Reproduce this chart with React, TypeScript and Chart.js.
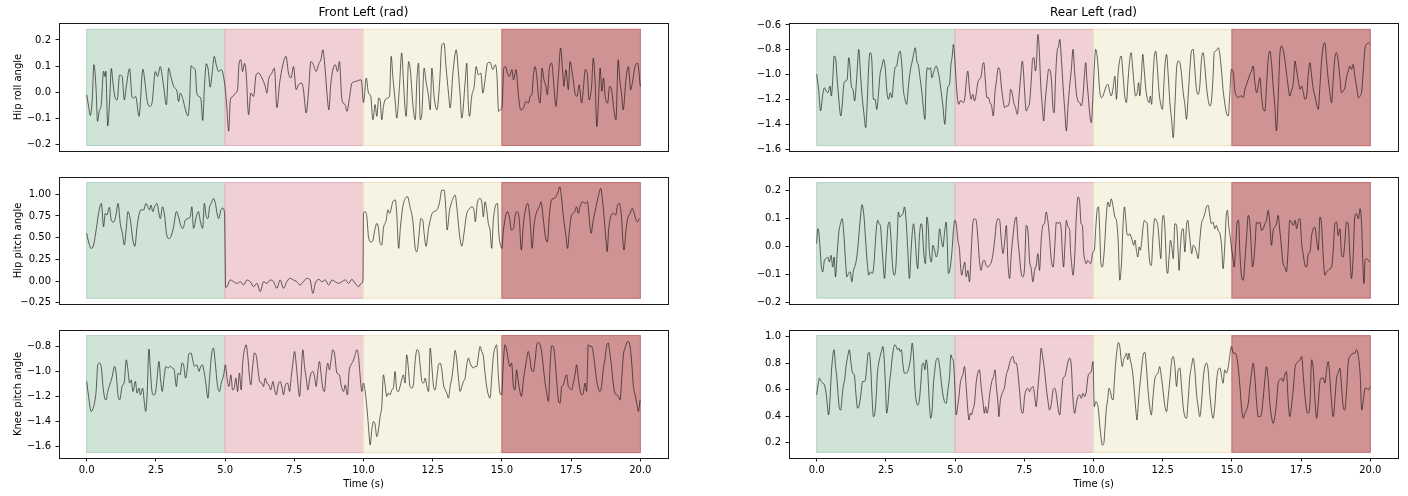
import React, { useEffect, useRef } from "react";
import { Chart, registerables } from "chart.js";

Chart.register(...registerables);

const FONT = "'DejaVu Sans', 'Liberation Sans', sans-serif";
Chart.defaults.font.family = FONT;
Chart.defaults.font.size = 10;
Chart.defaults.color = "#000";

// ---- gait phases (s) ----
const phaseStarts = [0, 5, 10, 15];
const phaseEnds = [5, 10, 15, 20];
const phaseFills = ["#cfe3d7", "#f0cfd5", "#f7f3e3", "#d09394"];
const phaseEdges = ["#b3d2bf", "#e2b3bb", "#efe3c3", "#c26b6d"];

// ---- axes ----
const timeTicks = [0, 2.5, 5, 7.5, 10, 12.5, 15, 17.5, 20];
const timeRange = [-1, 21];
const columnTitles = ["Front Left (rad)", "Rear Left (rad)"];
const rowLabels = ["Hip roll angle", "Hip pitch angle", "Knee pitch angle"];
const xLabel = "Time (s)";

const flRollTicks = [-0.2, -0.1, 0, 0.1, 0.2];
const flRollRange = [-0.226, 0.265];
const flRollShade = [-0.205, 0.241];
const flPitchTicks = [-0.25, 0, 0.25, 0.5, 0.75, 1.0];
const flPitchRange = [-0.265, 1.199];
const flPitchShade = [-0.199, 1.135];
const flKneeTicks = [-1.6, -1.4, -1.2, -1.0, -0.8];
const flKneeRange = [-1.691, -0.669];
const flKneeShade = [-1.648, -0.714];
const rrRollTicks = [-1.6, -1.4, -1.2, -1.0, -0.8, -0.6];
const rrRollRange = [-1.614, -0.584];
const rrRollShade = [-1.571, -0.635];
const rrPitchTicks = [-0.2, -0.1, 0, 0.1, 0.2];
const rrPitchRange = [-0.205, 0.249];
const rrPitchShade = [-0.184, 0.229];
const rrKneeTicks = [0.2, 0.4, 0.6, 0.8, 1.0];
const rrKneeRange = [0.084, 1.051];
const rrKneeShade = [0.127, 1.008];

// ---- series: [time s, angle rad] ----
const flRoll: number[][] = [
  [0,-0.01],[0.07,-0.055],[0.13,-0.09],[0.2,-0.03],[0.26,0.105],[0.34,0.01],[0.39,-0.112],[0.46,-0.07],[0.52,-0.055],[0.61,0.08],[0.66,0.06],[0.69,0.08],[0.76,-0.13],[0.83,-0.03],[0.89,0.09],[0.95,0.035],[1.01,-0.015],[1.1,-0.03],[1.19,0.065],[1.28,0.06],[1.36,-0.03],[1.43,0.02],[1.55,0.09],[1.64,-0.02],[1.7,-0.023],[1.77,-0.017],[1.89,-0.093],[2.03,0.088],[2.11,0.034],[2.18,-0.03],[2.27,-0.055],[2.36,-0.042],[2.48,0.079],[2.56,0.06],[2.66,0.098],[2.73,0.06],[2.78,0.022],[2.88,-0.049],[2.96,0.092],[3.04,0.06],[3.14,0.022],[3.26,0.003],[3.32,-0.036],[3.38,-0.004],[3.48,-0.029],[3.57,-0.068],[3.66,-0.091],[3.72,-0.029],[3.77,0.101],[3.86,0.092],[3.92,0.086],[3.98,-0.004],[4.06,-0.017],[4.13,-0.029],[4.19,-0.109],[4.26,0.034],[4.32,0.109],[4.39,0.086],[4.46,0.019],[4.54,0.079],[4.61,0.137],[4.68,0.105],[4.77,0.079],[4.85,0.086],[4.92,0.073],[5.01,0.009],
  [5.06,-0.055],[5.13,-0.15],[5.19,-0.03],[5.28,-0.017],[5.37,-0.004],[5.45,0.009],[5.5,0.105],[5.57,0.124],[5.63,0.079],[5.7,0.11],[5.76,0.073],[5.85,-0.087],[5.93,-0.004],[6.03,-0.017],[6.12,0.066],[6.21,0.073],[6.33,0.054],[6.45,0.022],[6.51,-0.004],[6.57,0.047],[6.69,0.073],[6.78,0.092],[6.87,-0.06],[6.97,0.034],[7.05,0.086],[7.2,0.137],[7.29,0.073],[7.38,0.054],[7.47,0.098],[7.57,0.009],[7.65,0.028],[7.77,0.034],[7.83,0.009],[7.93,-0.08],[8.01,-0.004],[8.1,0.117],[8.19,0.105],[8.29,0.079],[8.39,0.11],[8.46,0.124],[8.53,0.162],[8.62,0.079],[8.68,-0.004],[8.75,-0.068],[8.82,0.034],[8.98,0.105],[9.06,0.079],[9.13,0.117],[9.22,-0.029],[9.34,-0.049],[9.4,-0.074],[9.5,-0.017],[9.58,0.034],[9.7,0.04],[9.82,0.045],[9.92,0.047],[10.0,-0.04],
  [10.1,0.054],[10.18,-0.004],[10.26,-0.016],[10.34,-0.106],[10.42,-0.048],[10.48,-0.093],[10.55,-0.023],[10.6,-0.03],[10.66,-0.106],[10.72,-0.055],[10.78,-0.03],[10.87,-0.023],[10.94,-0.016],[11.0,0.137],[11.06,0.06],[11.15,-0.042],[11.2,-0.1],[11.3,0.022],[11.38,0.15],[11.44,0.047],[11.5,-0.061],[11.54,-0.093],[11.63,0.117],[11.69,0.086],[11.79,-0.055],[11.87,-0.106],[11.93,0.047],[11.99,0.111],[12.05,-0.106],[12.11,-0.08],[12.19,0.092],[12.26,0.04],[12.35,-0.016],[12.41,-0.068],[12.47,0.092],[12.55,-0.016],[12.65,-0.068],[12.75,0.035],[12.83,0.18],[12.91,0.187],[12.98,0.098],[13.07,-0.004],[13.13,-0.061],[13.23,0.073],[13.35,0.162],[13.43,0.073],[13.49,-0.01],[13.55,-0.1],[13.67,0.035],[13.73,0.111],[13.79,-0.055],[13.83,-0.093],[13.91,-0.016],[14.0,0.022],[14.07,0.098],[14.15,0.066],[14.24,0.073],[14.31,-0.004],[14.4,0.054],[14.48,0.111],[14.58,0.114],[14.67,0.086],[14.76,0.105],[14.82,0.066],[14.88,-0.074],[14.94,-0.068],[15.01,-0.055],
  [15.06,0.086],[15.13,0.098],[15.2,0.073],[15.27,0.06],[15.36,0.086],[15.42,0.047],[15.51,0.086],[15.6,-0.016],[15.68,-0.068],[15.78,-0.061],[15.87,-0.036],[15.96,-0.042],[16.02,-0.016],[16.08,-0.01],[16.14,0.066],[16.2,0.098],[16.26,0.06],[16.32,-0.016],[16.38,-0.042],[16.45,0.092],[16.52,0.047],[16.59,0.022],[16.64,-0.01],[16.71,0.086],[16.8,0.111],[16.88,0.022],[16.95,-0.055],[17.04,0.06],[17.12,0.169],[17.19,0.086],[17.24,0.022],[17.31,0.086],[17.4,0.009],[17.46,0.117],[17.56,0.06],[17.64,-0.004],[17.72,-0.016],[17.79,0.028],[17.88,-0.042],[17.94,0.009],[18.01,0.086],[18.08,0.073],[18.15,-0.03],[18.24,0.022],[18.3,0.13],[18.36,0.054],[18.43,-0.132],[18.49,-0.03],[18.55,0.092],[18.61,0.003],[18.67,0.054],[18.73,-0.016],[18.82,-0.042],[18.89,0.022],[18.97,0.003],[19.03,-0.055],[19.12,-0.106],[19.2,0.124],[19.26,0.047],[19.32,-0.004],[19.38,-0.068],[19.48,0.047],[19.57,0.098],[19.65,0.009],[19.72,0.04],[19.81,0.098],[19.9,0.111],[20.0,0.022],
];

const flPitch: number[][] = [
  [0,0.55],[0.07,0.45],[0.16,0.376],[0.25,0.415],[0.35,0.607],[0.43,0.78],[0.53,0.895],[0.61,0.626],[0.67,0.78],[0.73,0.76],[0.82,0.85],[0.89,0.7],[0.97,0.68],[1.06,0.76],[1.13,0.895],[1.22,0.645],[1.29,0.55],[1.36,0.415],[1.43,0.607],[1.49,0.8],[1.58,0.7],[1.66,0.49],[1.74,0.4],[1.82,0.626],[1.9,0.78],[1.96,0.82],[2.06,0.82],[2.14,0.895],[2.21,0.855],[2.27,0.82],[2.32,0.875],[2.39,0.8],[2.45,0.855],[2.54,0.895],[2.61,0.78],[2.66,0.72],[2.74,0.855],[2.82,0.74],[2.88,0.55],[2.96,0.49],[3.04,0.51],[3.14,0.626],[3.24,0.8],[3.32,0.74],[3.41,0.626],[3.48,0.607],[3.56,0.7],[3.66,0.72],[3.74,0.74],[3.8,0.855],[3.86,0.607],[3.96,0.74],[4.04,0.8],[4.1,0.7],[4.19,0.607],[4.25,0.895],[4.32,0.74],[4.38,0.72],[4.44,0.855],[4.5,0.895],[4.58,0.95],[4.65,0.895],[4.71,0.78],[4.77,0.72],[4.85,0.82],[4.92,0.84],[4.98,0.78],
  [5.02,-0.073],[5.07,-0.065],[5.19,0.012],[5.31,-0.008],[5.43,-0.027],[5.55,-0.008],[5.67,-0.046],[5.79,0.012],[5.91,-0.008],[6.03,-0.065],[6.15,-0.027],[6.27,-0.123],[6.39,-0.008],[6.51,-0.027],[6.63,0.012],[6.75,-0.008],[6.87,-0.084],[6.99,0.012],[7.11,-0.084],[7.23,-0.008],[7.35,0.031],[7.47,0.012],[7.59,-0.008],[7.71,-0.046],[7.83,-0.008],[7.95,0.031],[8.07,0.012],[8.17,-0.142],[8.26,-0.027],[8.38,0.019],[8.5,-0.008],[8.62,0.012],[8.74,-0.046],[8.86,0.012],[8.98,-0.008],[9.1,-0.027],[9.22,-0.008],[9.34,0.012],[9.46,-0.027],[9.58,0.019],[9.7,-0.027],[9.82,-0.065],[9.92,-0.027],[9.98,0.012],
  [10.0,0.78],[10.06,0.8],[10.12,0.74],[10.18,0.51],[10.27,0.45],[10.34,0.47],[10.42,0.607],[10.48,0.664],[10.54,0.607],[10.6,0.434],[10.66,0.415],[10.72,0.607],[10.82,0.7],[10.88,0.82],[10.94,0.78],[10.99,0.82],[11.06,0.914],[11.15,0.933],[11.2,0.78],[11.27,0.376],[11.33,0.607],[11.42,0.856],[11.51,0.952],[11.59,0.972],[11.68,0.856],[11.78,0.7],[11.87,0.376],[11.93,0.338],[12.0,0.51],[12.07,0.72],[12.14,0.7],[12.19,0.55],[12.26,0.4],[12.35,0.607],[12.41,0.7],[12.48,0.78],[12.55,0.8],[12.65,0.82],[12.74,0.895],[12.83,1.048],[12.91,1.048],[12.97,0.856],[13.02,0.588],[13.11,0.82],[13.19,0.914],[13.31,0.99],[13.37,0.856],[13.47,0.53],[13.55,0.4],[13.63,0.55],[13.73,0.78],[13.8,0.82],[13.91,0.856],[13.99,0.82],[14.04,0.683],[14.11,0.895],[14.21,0.952],[14.28,0.895],[14.33,0.74],[14.39,0.914],[14.45,0.82],[14.51,0.664],[14.57,0.588],[14.63,0.376],[14.69,0.7],[14.76,0.856],[14.84,0.895],[14.88,0.588],[14.96,0.4],[15.0,0.376],
  [15.05,0.568],[15.13,0.74],[15.2,0.8],[15.27,0.74],[15.34,0.588],[15.42,0.607],[15.48,0.76],[15.54,0.8],[15.63,0.7],[15.7,0.357],[15.78,0.664],[15.86,0.837],[15.93,0.895],[16.02,0.7],[16.09,0.376],[16.16,0.645],[16.26,0.8],[16.35,0.856],[16.41,0.914],[16.5,0.7],[16.57,0.51],[16.64,0.45],[16.72,0.78],[16.79,0.933],[16.88,0.952],[16.95,0.972],[17.03,1.03],[17.09,1.087],[17.15,0.972],[17.22,0.74],[17.31,0.53],[17.37,0.376],[17.44,0.588],[17.5,0.74],[17.56,0.78],[17.63,0.8],[17.7,0.856],[17.76,0.78],[17.82,0.856],[17.92,0.914],[18.0,0.895],[18.09,0.914],[18.15,0.74],[18.22,0.55],[18.3,0.7],[18.4,0.856],[18.48,0.972],[18.57,1.068],[18.64,0.914],[18.7,0.7],[18.76,0.47],[18.8,0.338],[18.86,0.607],[18.93,0.74],[19.03,0.78],[19.11,0.76],[19.18,0.876],[19.24,0.895],[19.32,0.74],[19.36,0.51],[19.41,0.357],[19.49,0.607],[19.56,0.74],[19.63,0.78],[19.7,0.837],[19.78,0.78],[19.85,0.7],[19.9,0.683],[19.97,0.72],
];

const flKnee: number[][] = [
  [0,-1.08],[0.07,-1.2],[0.16,-1.32],[0.25,-1.28],[0.34,-1.16],[0.4,-0.947],[0.47,-0.933],[0.53,-0.973],[0.59,-1.12],[0.65,-1.213],[0.7,-1.227],[0.76,-1.16],[0.83,-1.107],[0.91,-1.053],[1.01,-0.96],[1.07,-1.027],[1.13,-1.187],[1.19,-1.227],[1.28,-1.12],[1.36,-1.08],[1.43,-0.907],[1.49,-0.987],[1.55,-1.093],[1.61,-1.067],[1.67,-1.16],[1.76,-1.08],[1.82,-1.173],[1.89,-1.133],[1.94,-1.187],[2.02,-1.133],[2.08,-1.24],[2.13,-1.32],[2.18,-1.2],[2.25,-0.821],[2.3,-0.987],[2.36,-1.16],[2.42,-1.187],[2.48,-1.173],[2.54,-1.067],[2.61,-0.92],[2.67,-1.067],[2.73,-1.16],[2.8,-1.04],[2.86,-0.96],[2.94,-0.973],[3.02,-0.96],[3.1,-0.973],[3.16,-0.987],[3.24,-1.12],[3.3,-1.013],[3.38,-1.027],[3.44,-0.933],[3.5,-0.947],[3.57,-1.053],[3.63,-0.987],[3.69,-0.861],[3.77,-0.853],[3.84,-0.92],[3.9,-0.96],[3.98,-0.947],[4.06,-1.0],[4.1,-0.973],[4.18,-0.947],[4.24,-1.0],[4.31,-1.107],[4.38,-1.213],[4.44,-1.053],[4.51,-0.867],[4.58,-0.813],[4.64,-0.92],[4.73,-1.12],[4.8,-1.16],[4.86,-1.093],[4.95,-1.027],[5.01,-0.947],
  [5.07,-1.053],[5.14,-1.12],[5.21,-1.027],[5.27,-1.147],[5.33,-1.133],[5.39,-1.053],[5.45,-1.16],[5.52,-1.013],[5.58,-1.147],[5.64,-0.92],[5.7,-0.827],[5.76,-0.787],[5.82,-0.88],[5.88,-1.04],[5.93,-1.107],[5.99,-0.973],[6.06,-0.853],[6.13,-0.88],[6.19,-0.987],[6.25,-1.08],[6.33,-1.093],[6.39,-1.12],[6.45,-1.053],[6.51,-1.093],[6.58,-1.107],[6.65,-1.147],[6.73,-1.08],[6.79,-1.147],[6.85,-1.187],[6.92,-1.107],[6.99,-1.08],[7.06,-1.133],[7.11,-1.187],[7.18,-1.107],[7.26,-1.093],[7.33,-1.16],[7.39,-1.04],[7.45,-0.933],[7.51,-0.84],[7.57,-0.947],[7.63,-1.093],[7.69,-1.2],[7.75,-1.013],[7.81,-0.827],[7.87,-0.96],[7.93,-1.053],[7.99,-1.147],[8.05,-1.067],[8.11,-1.013],[8.17,-1.0],[8.23,-1.04],[8.29,-1.12],[8.35,-1.0],[8.41,-0.92],[8.47,-1.027],[8.53,-1.133],[8.59,-1.16],[8.65,-1.013],[8.71,-0.933],[8.77,-0.987],[8.83,-0.907],[8.89,-0.827],[8.95,-0.853],[9.04,-1.013],[9.13,-1.027],[9.19,-1.107],[9.28,-1.16],[9.34,-1.107],[9.42,-1.187],[9.48,-1.0],[9.55,-0.947],[9.62,-0.92],[9.68,-0.88],[9.76,-0.827],
  [9.82,-0.88],[9.88,-1.04],[9.94,-1.16],[10.0,-1.093],[10.06,-1.16],[10.12,-1.28],[10.18,-1.44],[10.24,-1.587],[10.3,-1.467],[10.36,-1.4],[10.42,-1.427],[10.48,-1.52],[10.54,-1.467],[10.6,-1.36],[10.66,-1.28],[10.72,-1.027],[10.78,-1.107],[10.84,-1.2],[10.9,-1.173],[10.96,-1.187],[11.02,-1.147],[11.08,-1.133],[11.14,-1.0],[11.2,-1.147],[11.26,-1.16],[11.32,-1.12],[11.38,-1.067],[11.44,-1.027],[11.5,-1.093],[11.56,-0.867],[11.62,-0.973],[11.68,-1.12],[11.74,-1.133],[11.8,-1.107],[11.86,-0.933],[11.93,-0.827],[11.99,-0.84],[12.05,-0.96],[12.11,-1.08],[12.17,-1.093],[12.23,-1.053],[12.29,-1.12],[12.35,-1.16],[12.41,-0.813],[12.47,-0.96],[12.53,-1.12],[12.59,-1.147],[12.65,-1.053],[12.71,-0.947],[12.77,-0.933],[12.83,-0.987],[12.89,-1.107],[12.95,-1.147],[13.01,-1.173],[13.07,-1.213],[13.13,-1.12],[13.19,-1.053],[13.25,-0.947],[13.31,-0.832],[13.37,-0.907],[13.43,-1.053],[13.49,-1.16],[13.55,-1.12],[13.61,-1.08],[13.67,-1.053],[13.73,-0.947],[13.79,-0.893],[13.85,-0.933],[13.91,-0.96],[13.97,-0.973],[14.03,-0.96],[14.09,-0.96],[14.15,-0.88],[14.21,-0.8],[14.27,-0.84],[14.33,-0.88],[14.39,-1.013],[14.45,-1.12],[14.51,-1.187],[14.57,-1.213],[14.63,-1.053],[14.69,-0.88],[14.75,-0.813],[14.81,-0.787],[14.87,-1.027],[14.93,-1.173],[14.99,-1.187],
  [15.05,-0.933],[15.11,-0.787],[15.17,-0.827],[15.23,-0.907],[15.29,-0.96],[15.35,-0.933],[15.41,-1.107],[15.47,-1.147],[15.53,-0.987],[15.59,-1.08],[15.65,-1.16],[15.71,-1.2],[15.77,-1.08],[15.83,-0.987],[15.89,-0.907],[15.95,-0.84],[16.01,-0.893],[16.07,-0.987],[16.14,-1.0],[16.2,-0.907],[16.26,-0.787],[16.32,-0.768],[16.38,-0.787],[16.44,-0.853],[16.5,-0.973],[16.56,-1.093],[16.62,-1.173],[16.68,-1.24],[16.74,-0.96],[16.8,-0.795],[16.86,-0.8],[16.92,-0.907],[16.98,-1.08],[17.04,-1.227],[17.1,-1.253],[17.16,-1.12],[17.22,-1.107],[17.28,-1.053],[17.34,-1.027],[17.4,-1.12],[17.46,-1.133],[17.52,-1.147],[17.58,-1.093],[17.64,-1.027],[17.7,-0.947],[17.76,-1.053],[17.82,-1.147],[17.88,-1.187],[17.94,-1.173],[18.0,-1.093],[18.06,-1.16],[18.12,-0.787],[18.18,-0.8],[18.24,-0.8],[18.3,-0.853],[18.36,-0.96],[18.42,-1.067],[18.48,-1.133],[18.54,-1.16],[18.6,-1.12],[18.66,-0.987],[18.72,-0.907],[18.78,-0.8],[18.84,-0.773],[18.9,-0.853],[18.96,-0.96],[19.02,-1.093],[19.08,-1.173],[19.15,-1.187],[19.21,-1.2],[19.27,-1.227],[19.33,-1.053],[19.39,-0.867],[19.45,-0.813],[19.51,-0.773],[19.57,-0.76],[19.63,-0.8],[19.69,-0.933],[19.75,-1.12],[19.81,-1.187],[19.87,-1.253],[19.93,-1.32],[19.99,-1.227],
];

const rrRoll: number[][] = [
  [0,-0.997],[0.07,-1.118],[0.14,-1.292],[0.22,-1.158],[0.28,-1.105],[0.34,-1.131],[0.41,-1.145],[0.48,-1.091],[0.53,-1.172],[0.58,-1.038],[0.63,-0.85],[0.68,-0.863],[0.74,-1.038],[0.8,-1.198],[0.87,-1.332],[0.92,-1.252],[0.98,-1.078],[1.04,-1.051],[1.1,-1.038],[1.16,-0.863],[1.21,-0.957],[1.25,-1.091],[1.31,-1.118],[1.37,-1.212],[1.45,-1.011],[1.52,-0.796],[1.58,-0.984],[1.64,-1.172],[1.71,-1.319],[1.77,-1.426],[1.83,-1.198],[1.88,-0.93],[1.93,-0.823],[1.99,-0.877],[2.05,-1.198],[2.11,-1.198],[2.17,-1.279],[2.24,-1.131],[2.29,-0.997],[2.36,-0.93],[2.42,-0.877],[2.48,-0.957],[2.54,-1.145],[2.6,-1.198],[2.66,-1.145],[2.72,-1.185],[2.78,-1.038],[2.83,-0.944],[2.89,-0.93],[2.95,-0.85],[3.01,-0.81],[3.07,-0.903],[3.13,-1.118],[3.19,-1.198],[3.25,-1.239],[3.32,-1.078],[3.38,-0.971],[3.44,-0.903],[3.5,-0.836],[3.56,-0.783],[3.62,-0.89],[3.68,-0.93],[3.74,-1.038],[3.8,-1.145],[3.86,-1.279],[3.91,-1.359],[3.95,-1.064],[4.0,-0.944],[4.05,-0.957],[4.11,-0.944],[4.16,-1.024],[4.22,-0.984],[4.32,-0.93],[4.38,-0.971],[4.44,-1.038],[4.5,-1.145],[4.56,-1.252],[4.63,-1.399],[4.69,-1.198],[4.75,-1.091],[4.8,-1.078],[4.85,-0.917],[4.89,-0.863],[4.94,-0.756],[4.99,-0.877],
  [5.04,-1.064],[5.09,-1.198],[5.14,-1.239],[5.18,-1.212],[5.24,-1.212],[5.3,-1.225],[5.36,-1.172],[5.41,-1.038],[5.46,-0.971],[5.52,-1.118],[5.58,-1.198],[5.64,-1.158],[5.7,-1.212],[5.76,-1.158],[5.82,-1.064],[5.88,-1.038],[5.94,-1.011],[6.0,-0.917],[6.04,-0.903],[6.09,-1.038],[6.15,-1.185],[6.21,-1.185],[6.26,-1.225],[6.32,-1.252],[6.38,-1.332],[6.44,-1.145],[6.5,-1.038],[6.56,-0.944],[6.61,-0.957],[6.67,-1.091],[6.73,-1.198],[6.79,-1.265],[6.85,-1.252],[6.91,-1.252],[6.97,-1.198],[7.0,-1.118],[7.06,-1.145],[7.12,-1.225],[7.18,-1.265],[7.25,-1.319],[7.31,-1.172],[7.37,-1.011],[7.43,-0.89],[7.47,-0.971],[7.52,-1.172],[7.57,-1.292],[7.63,-1.265],[7.69,-1.225],[7.75,-1.051],[7.8,-0.877],[7.85,-0.863],[7.9,-0.971],[7.94,-0.903],[7.99,-0.676],[8.04,-0.796],[8.09,-1.064],[8.15,-1.252],[8.2,-1.373],[8.26,-1.198],[8.32,-1.064],[8.38,-0.957],[8.44,-0.971],[8.49,-1.078],[8.54,-1.279],[8.58,-1.306],[8.63,-1.024],[8.68,-0.823],[8.74,-0.77],
  [8.78,-0.716],[8.84,-0.877],[8.9,-1.091],[8.96,-1.279],[9.02,-1.453],[9.08,-1.252],[9.14,-1.091],[9.2,-0.957],[9.26,-0.796],[9.32,-0.984],[9.38,-1.145],[9.44,-1.212],[9.5,-1.225],[9.56,-1.252],[9.62,-1.172],[9.68,-0.984],[9.72,-0.903],[9.76,-1.038],[9.81,-1.172],[9.86,-1.306],[9.92,-1.386],[9.98,-1.172],
  [10.03,-0.93],[10.08,-0.796],[10.13,-0.85],[10.18,-0.984],[10.22,-1.118],[10.28,-1.185],[10.34,-1.172],[10.4,-1.131],[10.46,-1.091],[10.52,-1.078],[10.58,-1.131],[10.64,-1.172],[10.71,-1.105],[10.77,-1.011],[10.83,-1.198],[10.89,-0.984],[10.95,-0.877],[11.0,-0.85],[11.07,-1.011],[11.13,-1.172],[11.19,-1.225],[11.25,-1.038],[11.31,-0.877],[11.36,-0.823],[11.41,-0.93],[11.47,-1.091],[11.52,-1.172],[11.58,-1.145],[11.63,-1.064],[11.67,-1.172],[11.73,-1.011],[11.78,-0.836],[11.83,-0.957],[11.89,-1.118],[11.95,-1.198],[12.01,-1.225],[12.05,-1.172],[12.1,-1.239],[12.15,-1.011],[12.2,-0.85],[12.25,-0.81],[12.31,-0.957],[12.37,-1.145],[12.43,-1.239],[12.49,-1.279],[12.54,-1.091],[12.58,-0.93],[12.64,-0.836],[12.7,-1.011],[12.76,-1.225],[12.82,-1.359],[12.88,-1.507],[12.94,-1.252],[13.0,-0.957],[13.06,-0.89],[13.12,-0.903],[13.18,-0.997],[13.24,-1.145],[13.3,-1.239],[13.36,-1.359],[13.42,-1.172],[13.48,-0.957],[13.54,-0.81],[13.6,-0.796],[13.66,-0.957],[13.72,-1.118],[13.78,-1.158],[13.84,-1.091],[13.9,-0.877],[13.96,-0.823],[14.02,-0.93],[14.08,-1.091],[14.14,-1.198],[14.2,-1.252],[14.26,-1.212],[14.32,-1.011],[14.36,-0.823],[14.42,-0.81],[14.47,-0.796],[14.51,-0.783],[14.57,-0.85],[14.63,-0.984],[14.68,-1.118],[14.74,-1.225],[14.8,-1.306],[14.87,-1.332],[14.92,-1.172],[14.98,-0.957],
  [15.05,-0.984],[15.11,-1.131],[15.17,-1.172],[15.23,-1.185],[15.29,-1.172],[15.35,-1.172],[15.41,-1.185],[15.47,-1.118],[15.53,-1.078],[15.59,-1.038],[15.65,-0.997],[15.71,-0.971],[15.77,-0.93],[15.83,-1.064],[15.89,-1.145],[15.95,-1.091],[16.01,-1.024],[16.07,-1.172],[16.13,-1.279],[16.19,-1.292],[16.25,-1.091],[16.31,-0.877],[16.37,-0.81],[16.43,-0.903],[16.49,-1.091],[16.55,-1.252],[16.61,-1.453],[16.67,-1.198],[16.73,-0.85],[16.79,-0.769],[16.85,-0.796],[16.91,-0.877],[16.97,-0.984],[17.03,-1.091],[17.09,-1.172],[17.15,-1.131],[17.22,-1.064],[17.28,-0.89],[17.34,-0.971],[17.4,-1.051],[17.46,-1.118],[17.52,-1.091],[17.58,-1.145],[17.64,-1.198],[17.7,-1.172],[17.76,-0.997],[17.82,-0.903],[17.88,-1.011],[17.94,-1.118],[18.0,-1.172],[18.06,-1.239],[18.12,-1.279],[18.18,-1.091],[18.24,-0.89],[18.3,-0.769],[18.36,-0.743],[18.42,-0.89],[18.48,-1.038],[18.54,-1.145],[18.6,-1.225],[18.66,-1.038],[18.72,-0.863],[18.78,-0.823],[18.84,-0.89],[18.9,-1.024],[18.96,-1.145],[19.02,-1.131],[19.08,-1.105],[19.14,-1.024],[19.2,-0.971],[19.26,-0.93],[19.32,-0.957],[19.38,-0.917],[19.44,-1.011],[19.5,-1.091],[19.57,-1.185],[19.63,-1.172],[19.69,-1.131],[19.75,-0.957],[19.81,-0.783],[19.87,-0.756],[19.93,-0.743],[19.99,-0.756],
];

const rrPitch: number[][] = [
  [0,0.011],[0.04,0.064],[0.07,0.058],[0.12,-0.001],[0.17,-0.073],[0.22,-0.09],[0.28,-0.049],[0.34,-0.043],[0.4,-0.037],[0.46,-0.055],[0.52,-0.031],[0.58,-0.073],[0.63,-0.037],[0.68,-0.108],[0.74,-0.025],[0.8,0.052],[0.86,0.082],[0.92,0.1],[0.98,0.046],[1.04,-0.049],[1.09,-0.108],[1.15,-0.096],[1.21,-0.09],[1.27,-0.126],[1.33,-0.085],[1.39,-0.067],[1.45,-0.037],[1.51,0.023],[1.57,0.094],[1.64,0.15],[1.71,0.106],[1.76,0.035],[1.82,-0.049],[1.88,-0.102],[1.94,-0.09],[2.0,-0.096],[2.06,-0.073],[2.11,-0.001],[2.16,0.07],[2.21,0.094],[2.25,0.082],[2.3,0.076],[2.35,0.011],[2.4,-0.061],[2.45,-0.114],[2.51,-0.025],[2.57,0.07],[2.63,0.088],[2.68,0.035],[2.74,-0.067],[2.8,-0.102],[2.86,-0.073],[2.91,0.035],[2.95,0.124],[3.0,0.106],[3.06,0.112],[3.12,0.118],[3.17,0.142],[3.23,0.094],[3.29,-0.013],[3.35,-0.114],[3.41,-0.013],[3.46,0.058],[3.5,0.082],[3.56,0.023],[3.6,-0.037],[3.65,-0.079],[3.71,0.035],[3.77,0.082],[3.81,0.07],[3.87,-0.025],[3.93,-0.061],[3.98,0.106],[4.03,0.07],[4.07,-0.013],[4.14,-0.055],[4.2,0.005],[4.26,-0.013],[4.32,-0.037],[4.38,-0.013],[4.44,0.064],[4.5,0.029],[4.56,-0.001],[4.62,0.052],[4.68,0.088],[4.71,0.035],[4.76,-0.096],[4.82,-0.079],[4.89,-0.013],[4.94,0.058],[4.99,0.094],
  [5.04,0.082],[5.1,0.023],[5.16,-0.013],[5.2,-0.073],[5.24,-0.102],[5.3,-0.073],[5.35,-0.055],[5.4,-0.108],[5.46,-0.085],[5.52,-0.126],[5.58,-0.025],[5.64,0.082],[5.7,0.1],[5.76,0.094],[5.82,0.035],[5.88,-0.049],[5.94,-0.085],[6.0,-0.055],[6.06,-0.049],[6.12,-0.067],[6.18,-0.073],[6.24,-0.067],[6.31,-0.055],[6.37,-0.025],[6.43,0.023],[6.49,0.082],[6.55,0.1],[6.61,0.094],[6.67,0.023],[6.73,-0.025],[6.79,0.017],[6.85,0.076],[6.91,-0.061],[6.97,-0.114],[7.03,-0.025],[7.09,0.035],[7.15,0.088],[7.21,0.106],[7.27,0.023],[7.33,-0.037],[7.39,-0.096],[7.45,-0.108],[7.51,-0.073],[7.57,0.076],[7.63,0.058],[7.69,-0.049],[7.75,-0.079],[7.81,-0.126],[7.87,-0.085],[7.93,-0.067],[7.99,-0.025],[8.05,-0.085],[8.11,0.023],[8.17,0.076],[8.23,0.082],[8.29,0.124],[8.35,0.094],[8.41,0.035],[8.47,-0.043],[8.54,-0.073],[8.6,-0.001],[8.66,0.088],[8.72,0.082],
  [8.78,0.088],[8.84,0.052],[8.87,-0.013],[8.92,-0.073],[8.97,0.011],[9.02,0.094],[9.08,0.07],[9.14,0.058],[9.17,-0.013],[9.21,-0.061],[9.26,-0.102],[9.32,-0.037],[9.38,0.106],[9.44,0.177],[9.5,0.16],[9.55,0.082],[9.6,0.076],[9.64,-0.013],[9.69,-0.049],[9.74,-0.061],[9.79,-0.049],[9.84,-0.055],[9.89,-0.061],[9.93,-0.049],[9.98,-0.019],
  [10.03,-0.013],[10.08,0.064],[10.13,0.13],[10.18,0.142],[10.22,0.07],[10.27,-0.061],[10.32,-0.073],[10.37,-0.037],[10.42,0.035],[10.46,0.106],[10.52,0.16],[10.58,0.142],[10.64,0.171],[10.71,0.142],[10.77,0.106],[10.83,0.094],[10.89,0.023],[10.95,-0.12],[11.01,-0.061],[11.07,0.082],[11.12,0.142],[11.16,0.106],[11.21,0.046],[11.26,0.04],[11.31,0.046],[11.36,0.035],[11.41,0.017],[11.45,0.005],[11.5,0.023],[11.55,-0.013],[11.6,-0.037],[11.65,-0.001],[11.69,-0.013],[11.74,0.017],[11.79,0.07],[11.84,0.094],[11.89,0.088],[11.94,0.082],[11.98,0.011],[12.03,-0.055],[12.09,-0.067],[12.15,0.035],[12.21,0.1],[12.27,0.094],[12.33,0.07],[12.39,-0.001],[12.43,-0.043],[12.48,0.082],[12.53,0.112],[12.58,0.064],[12.64,-0.073],[12.68,-0.096],[12.73,-0.037],[12.78,0.023],[12.83,-0.001],[12.88,-0.043],[12.94,0.082],[13.0,0.076],[13.06,-0.025],[13.09,-0.085],[13.14,-0.001],[13.19,0.058],[13.24,0.064],[13.3,-0.019],[13.36,0.076],[13.41,0.094],[13.45,0.058],[13.5,0.011],[13.55,-0.025],[13.6,0.005],[13.66,-0.001],[13.72,-0.019],[13.78,-0.043],[13.84,0.023],[13.9,0.082],[13.96,0.1],[14.02,0.118],[14.08,0.142],[14.14,0.148],[14.2,0.112],[14.26,0.082],[14.32,0.088],[14.38,0.064],[14.44,0.076],[14.5,0.058],[14.57,0.046],[14.63,-0.001],[14.68,-0.079],[14.74,-0.001],[14.8,0.118],[14.84,0.13],[14.89,0.07],[14.94,0.035],[14.98,-0.001],
  [15.05,-0.049],[15.08,-0.073],[15.14,0.011],[15.19,0.088],[15.24,0.094],[15.29,-0.025],[15.35,-0.108],[15.41,-0.12],[15.47,-0.049],[15.53,0.035],[15.59,0.112],[15.65,0.082],[15.71,-0.025],[15.74,-0.073],[15.79,-0.049],[15.83,-0.001],[15.89,0.088],[15.95,0.082],[16.01,0.088],[16.07,0.058],[16.13,0.064],[16.19,0.082],[16.25,0.094],[16.31,0.13],[16.37,0.082],[16.43,0.005],[16.49,0.058],[16.55,0.07],[16.61,0.082],[16.67,0.112],[16.73,0.058],[16.79,-0.001],[16.85,-0.061],[16.91,-0.073],[16.97,-0.09],[17.03,-0.013],[17.09,0.094],[17.15,0.088],[17.22,0.076],[17.28,0.094],[17.34,0.064],[17.4,0.094],[17.46,0.1],[17.52,0.011],[17.58,-0.031],[17.64,-0.067],[17.7,-0.073],[17.76,-0.025],[17.82,-0.019],[17.88,0.04],[17.94,0.064],[18.0,0.07],[18.06,0.023],[18.12,-0.013],[18.18,0.106],[18.24,0.076],[18.3,-0.037],[18.36,-0.102],[18.42,-0.09],[18.48,-0.085],[18.54,-0.079],[18.6,-0.073],[18.66,-0.013],[18.72,0.082],[18.78,0.088],[18.84,0.04],[18.9,0.064],[18.96,-0.025],[19.02,-0.037],[19.08,0.017],[19.14,0.088],[19.2,0.082],[19.26,-0.025],[19.32,-0.114],[19.38,-0.037],[19.44,0.106],[19.5,0.118],[19.57,0.1],[19.63,0.136],[19.69,0.07],[19.72,-0.025],[19.77,-0.132],[19.81,-0.049],[19.87,-0.043],[19.93,-0.049],[19.99,-0.055],
];

const rrKnee: number[][] = [
  [0,0.561],[0.05,0.636],[0.1,0.687],[0.16,0.662],[0.22,0.649],[0.28,0.636],[0.34,0.573],[0.39,0.472],[0.43,0.409],[0.48,0.523],[0.53,0.725],[0.58,0.851],[0.63,0.902],[0.68,0.775],[0.72,0.712],[0.77,0.573],[0.82,0.46],[0.87,0.447],[0.92,0.548],[0.96,0.624],[1.01,0.674],[1.06,0.775],[1.12,0.851],[1.18,0.902],[1.24,0.801],[1.3,0.725],[1.36,0.712],[1.42,0.561],[1.48,0.46],[1.54,0.485],[1.6,0.573],[1.66,0.662],[1.71,0.662],[1.76,0.674],[1.81,0.775],[1.86,0.876],[1.9,0.881],[1.95,0.775],[2.0,0.548],[2.05,0.396],[2.1,0.422],[2.15,0.548],[2.19,0.712],[2.24,0.801],[2.29,0.851],[2.34,0.889],[2.39,0.927],[2.44,0.826],[2.48,0.649],[2.53,0.422],[2.58,0.497],[2.63,0.649],[2.68,0.737],[2.72,0.826],[2.77,0.902],[2.82,0.939],[2.87,0.927],[2.92,0.902],[2.97,0.914],[3.01,0.889],[3.06,0.902],[3.11,0.801],[3.17,0.725],[3.23,0.725],[3.29,0.737],[3.35,0.788],[3.4,0.851],[3.45,0.952],[3.5,0.851],[3.54,0.649],[3.59,0.523],[3.65,0.485],[3.71,0.523],[3.77,0.674],[3.81,0.788],[3.86,0.801],[3.91,0.75],[3.95,0.826],[4.0,0.775],[4.04,0.624],[4.07,0.497],[4.12,0.384],[4.17,0.447],[4.22,0.649],[4.27,0.75],[4.32,0.826],[4.38,0.838],[4.44,0.775],[4.5,0.662],[4.56,0.561],[4.62,0.51],[4.68,0.497],[4.74,0.598],[4.8,0.699],[4.85,0.864],[4.89,0.838],[4.94,0.813],
  [4.99,0.624],[5.04,0.409],[5.09,0.472],[5.14,0.548],[5.18,0.636],[5.23,0.687],[5.28,0.712],[5.34,0.775],[5.4,0.624],[5.46,0.447],[5.5,0.371],[5.55,0.422],[5.59,0.409],[5.64,0.447],[5.7,0.497],[5.76,0.649],[5.82,0.725],[5.88,0.75],[5.94,0.624],[6.0,0.523],[6.06,0.422],[6.1,0.472],[6.15,0.422],[6.2,0.46],[6.24,0.548],[6.29,0.624],[6.34,0.674],[6.39,0.699],[6.44,0.75],[6.49,0.624],[6.55,0.497],[6.58,0.396],[6.63,0.51],[6.68,0.561],[6.73,0.586],[6.79,0.624],[6.85,0.712],[6.91,0.75],[6.97,0.801],[7.03,0.838],[7.09,0.851],[7.15,0.801],[7.21,0.801],[7.27,0.725],[7.33,0.586],[7.39,0.447],[7.45,0.422],[7.51,0.548],[7.57,0.598],[7.63,0.611],[7.69,0.586],[7.75,0.611],[7.81,0.624],[7.87,0.561],[7.93,0.472],[7.99,0.611],[8.05,0.75],[8.11,0.914],[8.17,0.838],[8.23,0.75],[8.29,0.624],[8.35,0.523],[8.41,0.447],[8.47,0.485],[8.54,0.598],[8.6,0.611],
  [8.78,0.409],[8.84,0.548],[8.9,0.687],[8.96,0.699],[9.02,0.75],[9.08,0.813],[9.14,0.838],[9.2,0.775],[9.26,0.523],[9.32,0.422],[9.38,0.497],[9.44,0.548],[9.5,0.561],[9.56,0.535],[9.62,0.573],[9.68,0.548],[9.74,0.586],[9.8,0.699],[9.86,0.725],[9.92,0.737],[9.98,0.813],
  [10.03,0.472],[10.08,0.51],[10.13,0.497],[10.18,0.447],[10.22,0.346],[10.27,0.245],[10.32,0.182],[10.37,0.194],[10.42,0.321],[10.46,0.447],[10.51,0.523],[10.56,0.611],[10.61,0.586],[10.66,0.535],[10.71,0.523],[10.75,0.649],[10.8,0.801],[10.85,0.902],[10.9,0.957],[10.95,0.927],[11.0,0.826],[11.04,0.775],[11.09,0.826],[11.14,0.851],[11.19,0.876],[11.24,0.826],[11.28,0.876],[11.33,0.826],[11.38,0.775],[11.43,0.699],[11.48,0.573],[11.53,0.447],[11.57,0.371],[11.62,0.497],[11.67,0.624],[11.72,0.725],[11.77,0.826],[11.81,0.876],[11.86,0.881],[11.91,0.775],[11.97,0.598],[12.03,0.472],[12.09,0.409],[12.15,0.548],[12.21,0.674],[12.27,0.712],[12.33,0.725],[12.39,0.775],[12.45,0.699],[12.51,0.598],[12.57,0.485],[12.64,0.434],[12.7,0.548],[12.76,0.674],[12.82,0.813],[12.88,0.851],[12.94,0.775],[13.0,0.624],[13.06,0.75],[13.12,0.763],[13.18,0.624],[13.24,0.472],[13.3,0.396],[13.36,0.384],[13.42,0.523],[13.48,0.699],[13.54,0.775],[13.6,0.838],[13.66,0.75],[13.72,0.573],[13.78,0.472],[13.84,0.396],[13.9,0.497],[13.96,0.674],[14.02,0.775],[14.08,0.801],[14.14,0.75],[14.2,0.573],[14.26,0.447],[14.32,0.384],[14.38,0.472],[14.44,0.649],[14.5,0.75],[14.57,0.763],[14.63,0.699],[14.68,0.649],[14.74,0.75],[14.8,0.725],[14.87,0.775],[14.92,0.851],[14.98,0.927],
  [15.05,0.876],[15.11,0.876],[15.17,0.851],[15.23,0.763],[15.29,0.624],[15.35,0.46],[15.41,0.384],[15.47,0.422],[15.53,0.447],[15.59,0.497],[15.65,0.624],[15.71,0.725],[15.77,0.801],[15.83,0.687],[15.89,0.51],[15.95,0.396],[16.01,0.396],[16.07,0.422],[16.13,0.535],[16.19,0.674],[16.25,0.775],[16.31,0.674],[16.37,0.497],[16.43,0.396],[16.49,0.346],[16.55,0.396],[16.61,0.497],[16.67,0.649],[16.73,0.674],[16.79,0.687],[16.85,0.662],[16.91,0.712],[16.97,0.737],[17.03,0.523],[17.09,0.396],[17.15,0.472],[17.22,0.611],[17.28,0.763],[17.34,0.801],[17.4,0.813],[17.46,0.826],[17.52,0.851],[17.58,0.699],[17.64,0.548],[17.7,0.447],[17.76,0.422],[17.82,0.497],[17.88,0.826],[17.94,0.75],[18.0,0.523],[18.06,0.384],[18.12,0.497],[18.18,0.662],[18.24,0.687],[18.3,0.687],[18.36,0.649],[18.42,0.75],[18.48,0.813],[18.54,0.687],[18.6,0.497],[18.66,0.396],[18.72,0.523],[18.78,0.687],[18.84,0.725],[18.9,0.763],[18.96,0.624],[19.02,0.472],[19.08,0.447],[19.14,0.586],[19.2,0.801],[19.26,0.851],[19.32,0.864],[19.38,0.876],[19.44,0.876],[19.5,0.902],[19.57,0.851],[19.63,0.725],[19.69,0.447],[19.75,0.523],[19.81,0.611],[19.87,0.611],[19.93,0.598],[19.99,0.624],
];

// ---- panel definitions (row, column) ----
type PanelDef = {
  data: number[][];
  ticks: number[];
  range: number[];
  shade: number[];
  dec: number;
  row: number;
  col: number;
};

const panels: PanelDef[] = [
  { data: flRoll, ticks: flRollTicks, range: flRollRange, shade: flRollShade, dec: 1, row: 0, col: 0 },
  { data: flPitch, ticks: flPitchTicks, range: flPitchRange, shade: flPitchShade, dec: 2, row: 1, col: 0 },
  { data: flKnee, ticks: flKneeTicks, range: flKneeRange, shade: flKneeShade, dec: 1, row: 2, col: 0 },
  { data: rrRoll, ticks: rrRollTicks, range: rrRollRange, shade: rrRollShade, dec: 1, row: 0, col: 1 },
  { data: rrPitch, ticks: rrPitchTicks, range: rrPitchRange, shade: rrPitchShade, dec: 1, row: 1, col: 1 },
  { data: rrKnee, ticks: rrKneeTicks, range: rrKneeRange, shade: rrKneeShade, dec: 1, row: 2, col: 1 },
];

// ---- layout geometry ----
const colGeom = [
  { left: 0, width: 680, padRight: 12 },
  { left: 730, width: 678, padRight: 10 },
];
const rowGeom = [
  { top: 0, height: 160, padTop: 0, padBottom: 9 },
  { top: 166, height: 140, padTop: 11, padBottom: 2 },
  { top: 320, height: 176, padTop: 10, padBottom: 0 },
];
const Y_AXIS_WIDTH = 59;
const X_AXIS_HEIGHT = 38;

const fmt = (v: number, d: number) => Number(v).toFixed(d).replace("-", "\u2212");

const shadePlugin = (lo: number, hi: number) => ({
  id: "phaseShade",
  beforeDatasetsDraw(chart: any) {
    const { ctx } = chart;
    const xs = chart.scales.x;
    const ys = chart.scales.y;
    ctx.save();
    phaseStarts.forEach((s, i) => {
      const x0 = xs.getPixelForValue(s);
      const x1 = xs.getPixelForValue(phaseEnds[i]);
      const y0 = ys.getPixelForValue(hi);
      const y1 = ys.getPixelForValue(lo);
      ctx.fillStyle = phaseFills[i];
      ctx.fillRect(x0, y0, x1 - x0, y1 - y0);
      ctx.strokeStyle = phaseEdges[i];
      ctx.lineWidth = 1;
      ctx.strokeRect(x0, y0, x1 - x0, y1 - y0);
    });
    ctx.restore();
  },
});

const framePlugin = {
  id: "axesFrame",
  afterDatasetsDraw(chart: any) {
    const { ctx, chartArea } = chart;
    const l = Math.floor(chartArea.left) + 0.5;
    const t = Math.floor(chartArea.top) + 0.5;
    const r = Math.floor(chartArea.right) + 0.5;
    const b = Math.floor(chartArea.bottom) + 0.5;
    ctx.save();
    ctx.strokeStyle = "#1a1a1a";
    ctx.lineWidth = 1;
    ctx.strokeRect(l, t, r - l, b - t);
    ctx.restore();
  },
};

function Panel({ p }: { p: PanelDef }) {
  const ref = useRef<HTMLCanvasElement>(null);
  const cg = colGeom[p.col];
  const rg = rowGeom[p.row];
  useEffect(() => {
    if (!ref.current) return;
    const isBottom = p.row === 2;
    const tickGrid = {
      display: true,
      drawOnChartArea: false,
      drawTicks: true,
      tickLength: 3.5,
      color: "#222",
      lineWidth: 1,
    };
    const chart = new Chart(ref.current, {
      type: "line",
      data: {
        datasets: [
          {
            data: p.data.map(([x, y]) => ({ x, y })),
            borderColor: "rgba(15,15,15,0.8)",
            borderWidth: 0.8,
            pointRadius: 0,
            fill: false,
            cubicInterpolationMode: "monotone",
          },
        ],
      },
      options: {
        animation: false,
        responsive: false,
        devicePixelRatio: 1,
        events: [],
        layout: {
          padding: { top: rg.padTop, bottom: rg.padBottom, left: 0, right: cg.padRight },
        },
        plugins: {
          legend: { display: false },
          tooltip: { enabled: false },
          title: {
            display: p.row === 0,
            text: columnTitles[p.col],
            fullSize: false,
            color: "#000",
            font: { size: 12, weight: "normal", family: FONT },
            padding: { top: 5.8, bottom: 2.8 },
          },
        },
        scales: {
          x: {
            type: "linear",
            min: timeRange[0],
            max: timeRange[1],
            display: isBottom,
            afterBuildTicks: (s: any) => {
              s.ticks = timeTicks.map((v) => ({ value: v }));
            },
            afterFit: (s: any) => {
              if (isBottom) s.height = X_AXIS_HEIGHT;
              s.paddingLeft = 0;
              s.paddingRight = 0;
            },
            ticks: {
              autoSkip: false,
              maxRotation: 0,
              padding: 3,
              color: "#000",
              font: { size: 10, family: FONT },
              callback: (v: any) => fmt(v, 1),
            },
            grid: tickGrid,
            border: { display: false },
            title: {
              display: true,
              text: xLabel,
              color: "#000",
              font: { size: 10, family: FONT },
              padding: { top: 0, bottom: 6 },
            },
          },
          y: {
            type: "linear",
            min: p.range[0],
            max: p.range[1],
            afterBuildTicks: (s: any) => {
              s.ticks = p.ticks.map((v) => ({ value: v }));
            },
            afterFit: (s: any) => {
              s.width = Y_AXIS_WIDTH;
              s.paddingTop = 0;
              s.paddingBottom = 0;
            },
            ticks: {
              padding: 4.5,
              color: "#000",
              font: { size: 10, family: FONT },
              callback: (v: any) => fmt(v, p.dec),
            },
            grid: tickGrid,
            border: { display: false },
            title: {
              display: p.col === 0,
              text: rowLabels[p.row],
              color: "#000",
              font: { size: 10, family: FONT },
              padding: { top: 12, bottom: 0 },
            },
          },
        },
      } as any,
      plugins: [shadePlugin(p.shade[0], p.shade[1]), framePlugin],
    });
    return () => chart.destroy();
  }, []);
  return (
    <canvas
      ref={ref}
      width={cg.width}
      height={rg.height}
      style={{ position: "absolute", left: cg.left, top: rg.top, width: cg.width, height: rg.height, display: "block" }}
    />
  );
}

export default function App() {
  return (
    <div style={{ position: "fixed", left: 0, top: 0, width: 1408, height: 496, background: "#fff", overflow: "hidden" }}>
      {panels.map((p, i) => (
        <Panel key={i} p={p} />
      ))}
    </div>
  );
}
